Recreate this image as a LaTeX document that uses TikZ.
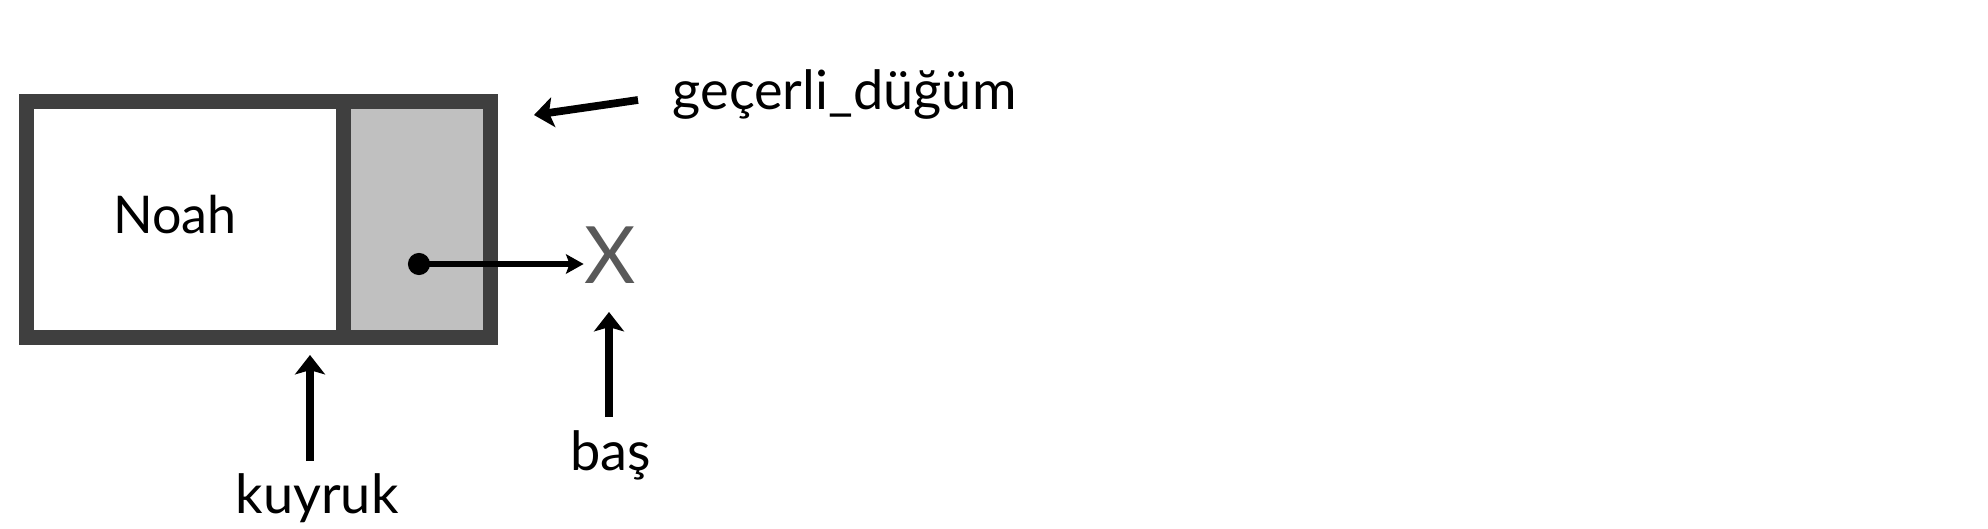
\documentclass[tikz,border=0pt]{standalone}
\usepackage{fontspec}
\setmainfont{Lato}
\usetikzlibrary{arrows.meta}
\definecolor{boxc}{HTML}{3F3F3F}
\definecolor{cellgray}{HTML}{C0C0C0}
\definecolor{xgray}{HTML}{595959}
\begin{document}
\begin{tikzpicture}[x=0.1mm,y=-0.1mm,
  lbl/.style={font=\fontsize{15.4}{17}\selectfont, inner sep=0pt, text=black},
  cell/.style={draw=boxc, line width=4.1pt, minimum height=23.6mm, inner sep=0pt},
  arr/.style={-{Stealth[length=5.5pt,width=8.5pt,inset=1.2pt]}, line width=2.2pt, black},
  arrsmall/.style={-{Stealth[length=5pt,width=5.5pt,inset=1pt]}, line width=1.9pt, black}]
\useasboundingbox[fill=white] (0,0) rectangle (1988,528);
% list node
\node[cell, fill=white, minimum width=31.7mm] (data) at (185,219.5) {};
\node[cell, fill=cellgray, minimum width=14.7mm] (ptr) at (417,219.5) {};
\node[lbl, font=\fontsize{14.8}{16}\selectfont, anchor=base] (noah) at (175,233) {Noah};
% pointer dot and X
\node[circle, fill=black, minimum size=6.3pt, inner sep=0pt] (dot) at (419,264) {};
\node[font=\fontsize{22.5}{24}\selectfont, text=xgray, inner sep=0pt, anchor=base] (xn) at (610,283) {X};
\draw[arrsmall] (dot.center) -- (xn.west |- dot.center);
% labels
\node[lbl, anchor=base west] (gd) at (672,110) {geçerli\_düğüm};
\node[lbl, anchor=base] (ky) at (317,513) {kuyruk};
\node[lbl, anchor=base] (bs) at (611,470) {baş};
% arrows
\coordinate (gtail) at (638,100);
\coordinate (gtip) at (534,115);
\draw[arr] (gtail) -- (gtip);
\coordinate (kt) at (310,461);
\coordinate (kh) at (310,355);
\draw[arr] (kt) -- (kh);
\coordinate (bt) at (609,417);
\coordinate (bh) at (609,312);
\draw[arr] (bt) -- (bh);
\end{tikzpicture}
\end{document}
